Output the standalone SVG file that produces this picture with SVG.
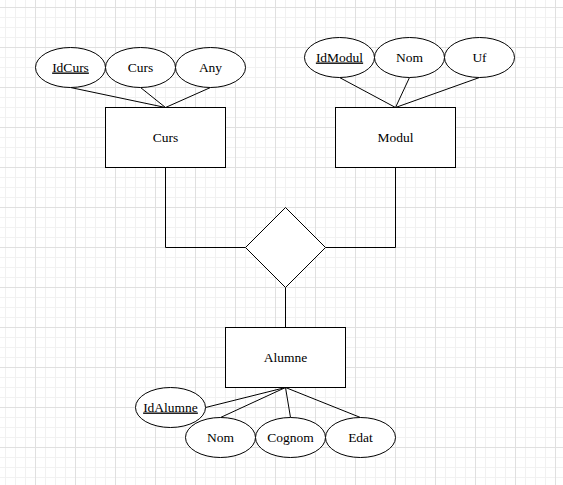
<svg xmlns="http://www.w3.org/2000/svg" width="563" height="485" viewBox="0 0 563 485">
<style>
.ent{fill:#fff;stroke:#000;stroke-width:1}
.att{fill:#fff;stroke:#000;stroke-width:1}
.con{fill:none;stroke:#000;stroke-width:1}
text{font-family:"Liberation Serif","Times New Roman",serif;font-size:13.5px;fill:#000;text-anchor:middle}
.key{text-decoration:underline}
</style>
<defs>
<pattern id="grid" patternUnits="userSpaceOnUse" x="35" y="7" width="40" height="40">
<path d="M10.5 0V40M20.5 0V40M30.5 0V40M0 10.5H40M0 20.5H40M0 30.5H40" stroke="#f1f1f1" stroke-width="1" fill="none"/>
<path d="M0.5 0V40M0 0.5H40" stroke="#e0e0e0" stroke-width="1" fill="none"/>
</pattern>
</defs>
<rect width="563" height="485" fill="#fff"/>
<rect width="563" height="485" fill="url(#grid)"/>
<g id="connectors">
<path class="con" d="M70.5 87.5L165.5 107.5M140.5 87.5L165.5 107.5M210.5 87.5L165.5 107.5"/>
<path class="con" d="M339.5 77.5L395.5 107.5M409.5 77.5L395.5 107.5M479.5 77.5L395.5 107.5"/>
<path class="con" d="M165.5 167.5V247.5H245.5"/>
<path class="con" d="M395.5 167.5V247.5H325.5"/>
<path class="con" d="M285.5 287.5V327.5"/>
<path class="con" d="M285.5 387.5L205.5 407.5M285.5 387.5L220.5 417.5M285.5 387.5L290.5 417.5M285.5 387.5L360.5 417.5"/>
</g>
<g id="curs"><rect class="ent" x="105.5" y="107.5" width="120" height="60"/><text x="165.5" y="141.5">Curs</text></g>
<g id="modul"><rect class="ent" x="335.5" y="107.5" width="120" height="60"/><text x="395.5" y="141.5">Modul</text></g>
<g id="alumne"><rect class="ent" x="225.5" y="327.5" width="120" height="60"/><text x="285.5" y="361.5">Alumne</text></g>
<g id="relacio"><polygon class="ent" points="285.5,207.5 325.5,247.5 285.5,287.5 245.5,247.5"/></g>
<g id="attr-idcurs"><ellipse class="att" cx="70.5" cy="67.5" rx="35" ry="20"/><text class="key" x="70.5" y="71.5">IdCurs</text></g>
<g id="attr-curs"><ellipse class="att" cx="140.5" cy="67.5" rx="35" ry="20"/><text x="140.5" y="71.5">Curs</text></g>
<g id="attr-any"><ellipse class="att" cx="210.5" cy="67.5" rx="35" ry="20"/><text x="210.5" y="71.5">Any</text></g>
<g id="attr-idmodul"><ellipse class="att" cx="339.5" cy="57.5" rx="35" ry="20"/><text class="key" x="339.5" y="61.5">IdModul</text></g>
<g id="attr-nom-modul"><ellipse class="att" cx="409.5" cy="57.5" rx="35" ry="20"/><text x="409.5" y="61.5">Nom</text></g>
<g id="attr-uf"><ellipse class="att" cx="479.5" cy="57.5" rx="35" ry="20"/><text x="479.5" y="61.5">Uf</text></g>
<g id="attr-idalumne"><ellipse class="att" cx="170.5" cy="407.5" rx="35" ry="20"/><text class="key" x="170.5" y="411.5">IdAlumne</text></g>
<g id="attr-nom"><ellipse class="att" cx="220.5" cy="437.5" rx="35" ry="20"/><text x="220.5" y="441.5">Nom</text></g>
<g id="attr-cognom"><ellipse class="att" cx="290.5" cy="437.5" rx="35" ry="20"/><text x="290.5" y="441.5">Cognom</text></g>
<g id="attr-edat"><ellipse class="att" cx="360.5" cy="437.5" rx="35" ry="20"/><text x="360.5" y="441.5">Edat</text></g>
</svg>
